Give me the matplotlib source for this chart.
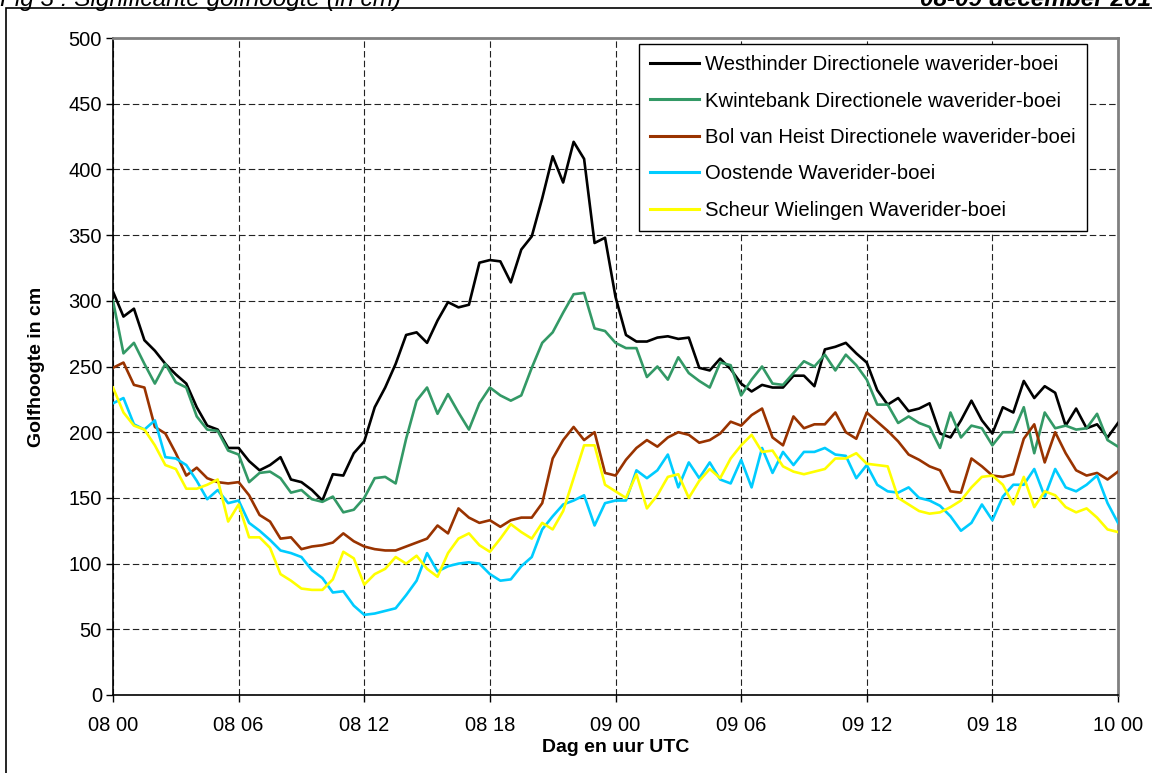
import numpy as np
import matplotlib
matplotlib.use("Agg")
import matplotlib.pyplot as plt
from matplotlib.patches import Rectangle

plt.rcParams['font.family'] = ['Liberation Sans', 'DejaVu Sans']

# time axis: hours since 08 Dec 00:00, half-hourly
hours = np.arange(0, 48.5, 0.5)

westhinder = [307, 288, 294, 270, 262, 252, 244, 237, 219, 205, 202, 188, 188, 178, 171, 175,
              181, 164, 162, 156, 148, 168, 167, 184, 193, 219, 234, 252, 274, 276, 268, 285,
              299, 295, 297, 329, 331, 330, 314, 339, 349, 378, 410, 390, 421, 408, 344, 348,
              303, 274, 269, 269, 272, 273, 271, 272, 249, 247, 256, 248, 237, 231, 236, 234,
              234, 243, 243, 235, 263, 265, 268, 260, 253, 232, 221, 226, 216, 218, 222, 199,
              196, 209, 224, 209, 199, 219, 215, 239, 226, 235, 230, 205, 218, 203, 206, 196, 207]

kwintebank = [300, 260, 268, 252, 237, 252, 238, 234, 212, 202, 201, 186, 183, 162, 169, 170,
              165, 154, 156, 149, 147, 151, 139, 141, 150, 165, 166, 161, 195, 224, 234, 214,
              229, 215, 202, 222, 234, 228, 224, 228, 249, 268, 276, 291, 305, 306, 279, 277,
              268, 264, 264, 242, 250, 240, 257, 245, 239, 234, 253, 251, 228, 240, 250, 237,
              236, 245, 254, 250, 259, 247, 259, 251, 240, 221, 221, 207, 212, 207, 204, 188,
              215, 196, 205, 203, 190, 200, 200, 219, 184, 215, 203, 205, 202, 203, 214, 194, 189]

bolvanheist = [249, 253, 236, 234, 204, 199, 184, 167, 173, 165, 162, 161, 162, 152, 137, 132,
               119, 120, 111, 113, 114, 116, 123, 117, 113, 111, 110, 110, 113, 116, 119, 129,
               123, 142, 135, 131, 133, 128, 133, 135, 135, 146, 180, 194, 204, 194, 200, 169,
               167, 179, 188, 194, 189, 196, 200, 198, 192, 194, 199, 208, 205, 213, 218, 196,
               190, 212, 203, 206, 206, 215, 200, 195, 215, 208, 201, 193, 183, 179, 174, 171,
               155, 154, 180, 174, 167, 166, 168, 195, 206, 177, 200, 184, 171, 167, 169, 164, 170]

oostende = [222, 226, 206, 202, 209, 181, 180, 175, 163, 149, 156, 146, 148, 131, 125, 118,
            110, 108, 105, 95, 89, 78, 79, 68, 61, 62, 64, 66, 76, 87, 108, 94,
            98, 100, 101, 100, 92, 87, 88, 98, 105, 126, 136, 145, 148, 152, 129, 146,
            148, 148, 171, 165, 171, 183, 158, 177, 165, 177, 164, 161, 179, 158, 188, 169,
            185, 175, 185, 185, 188, 183, 182, 165, 175, 160, 155, 154, 158, 150, 148, 144,
            136, 125, 131, 145, 133, 151, 160, 160, 172, 151, 172, 158, 155, 160, 167, 146, 131]

scheurwielingen = [234, 215, 205, 202, 190, 175, 172, 157, 157, 160, 164, 132, 145, 120, 120, 112,
                   92, 87, 81, 80, 80, 88, 109, 104, 84, 92, 96, 105, 100, 106, 96, 90,
                   108, 119, 123, 114, 109, 119, 130, 124, 119, 131, 126, 140, 165, 190, 190, 160,
                   155, 150, 168, 142, 152, 166, 168, 150, 163, 172, 165, 180, 190, 198, 185, 186,
                   174, 170, 168, 170, 172, 180, 180, 184, 176, 175, 174, 150, 145, 140, 138, 139,
                   143, 148, 158, 166, 167, 160, 145, 166, 143, 155, 152, 143, 139, 142, 135, 126, 124]

series_names = ["Westhinder Directionele waverider-boei",
                "Kwintebank Directionele waverider-boei",
                "Bol van Heist Directionele waverider-boei",
                "Oostende Waverider-boei",
                "Scheur Wielingen Waverider-boei"]
series_values = [westhinder, kwintebank, bolvanheist, oostende, scheurwielingen]
series_colors = ["#000000", "#339966", "#993300", "#00CCFF", "#FFFF00"]

xtick_pos = [0, 6, 12, 18, 24, 30, 36, 42, 48]
xtick_labels = ["08 00", "08 06", "08 12", "08 18", "09 00", "09 06", "09 12", "09 18", "10 00"]
ytick_pos = list(range(0, 501, 50))

W, H = 1152, 773
fig = plt.figure(figsize=(W / 100, H / 100), dpi=100)
fig.patch.set_facecolor("white")

# outer chart-area frame (partially clipped in the original)
fig.patches.append(Rectangle((6 / W, -0.05), 1.2, 1 - 8 / H + 0.05, transform=fig.transFigure,
                             fill=False, edgecolor="black", linewidth=1.2))

ax = fig.add_axes([113 / W, 1 - 695 / H, 1005 / W, 657 / H])

for name, vals, col in zip(series_names, series_values, series_colors):
    ax.plot(hours, vals, color=col, lw=1.9, label=name, solid_joinstyle="round", zorder=3)

ax.set_xlim(0, 48)
ax.set_ylim(0, 500)
ax.set_xticks(xtick_pos)
ax.set_xticklabels(xtick_labels)
ax.set_yticks(ytick_pos)
ax.tick_params(axis="both", direction="out", length=5, width=1, labelsize=14.5, colors="black")
ax.tick_params(axis="y", pad=3)
ax.tick_params(axis="x", pad=10)

ax.grid(True, color="#222222", linestyle=(0, (5.8, 2.9)), linewidth=0.8, zorder=1)
ax.set_axisbelow(True)

for s in ["left", "bottom"]:
    ax.spines[s].set_color("black")
    ax.spines[s].set_linewidth(1.2)
for s in ["top", "right"]:
    ax.spines[s].set_color("#808080")
    ax.spines[s].set_linewidth(2)

ax.set_ylabel("Golfhoogte in cm", fontsize=14, fontweight="bold", labelpad=17)
ax.set_xlabel("Dag en uur UTC", fontsize=14, fontweight="bold", labelpad=3)

leg = ax.legend(loc="upper left", bbox_to_anchor=((639 - 113) / 1005, (695 - 44) / 657),
                borderaxespad=0, fontsize=14.6, frameon=True, fancybox=False, shadow=False,
                handlelength=2.4, handletextpad=0.3, labelspacing=0.86, borderpad=0.55)
leg.get_frame().set_edgecolor("black")
leg.get_frame().set_linewidth(1.0)
leg.get_frame().set_alpha(1)
for line in leg.get_lines():
    line.set_linewidth(2.2)

fig.text(0.0, 1 - 6 / H, "Fig 3 : Significante golfhoogte (in cm)", fontsize=17.6, fontstyle="italic",
         ha="left", va="baseline")
fig.text(1151 / W, 1 - 6 / H, "08-09 december 201", fontsize=17.6, fontstyle="italic", fontweight="bold",
         ha="right", va="baseline")

fig.savefig("out.png", dpi=100)
